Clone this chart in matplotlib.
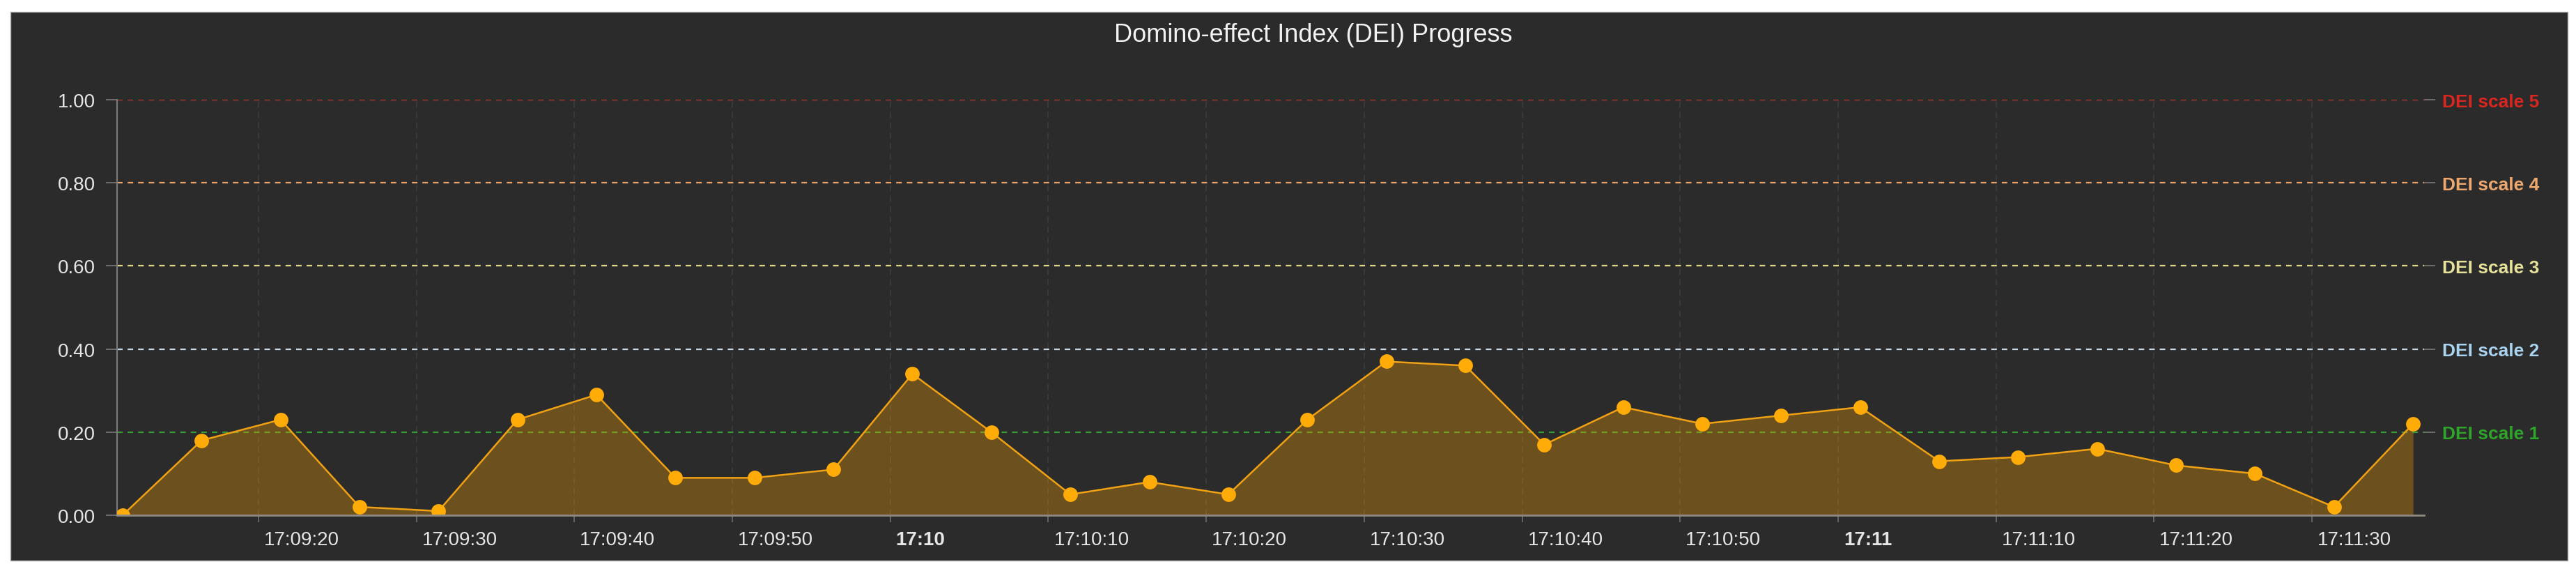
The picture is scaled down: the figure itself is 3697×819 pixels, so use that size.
import numpy as np
import pandas as pd
import matplotlib
matplotlib.use("Agg")
import matplotlib.pyplot as plt
import matplotlib.transforms as mtransforms
from matplotlib.patches import Rectangle

# amostras do indice
times = ["17:09:11.4", "17:09:16.4", "17:09:21.4", "17:09:26.4", "17:09:31.4",
         "17:09:36.4", "17:09:41.4", "17:09:46.4", "17:09:51.4", "17:09:56.4",
         "17:10:01.4", "17:10:06.4", "17:10:11.4", "17:10:16.4", "17:10:21.4",
         "17:10:26.4", "17:10:31.4", "17:10:36.4", "17:10:41.4", "17:10:46.4",
         "17:10:51.4", "17:10:56.4", "17:11:01.4", "17:11:06.4", "17:11:11.4",
         "17:11:16.4", "17:11:21.4", "17:11:26.4", "17:11:31.4", "17:11:36.4"]
dei = [0.00, 0.18, 0.23, 0.02, 0.01, 0.23, 0.29, 0.09, 0.09, 0.11,
       0.34, 0.20, 0.05, 0.08, 0.05, 0.23, 0.37, 0.36, 0.17, 0.26,
       0.22, 0.24, 0.26, 0.13, 0.14, 0.16, 0.12, 0.10, 0.02, 0.22]

tick_times = ["17:09:20", "17:09:30", "17:09:40", "17:09:50", "17:10:00",
              "17:10:10", "17:10:20", "17:10:30", "17:10:40", "17:10:50",
              "17:11:00", "17:11:10", "17:11:20", "17:11:30"]
tick_labels = ["17:09:20", "17:09:30", "17:09:40", "17:09:50", "17:10",
               "17:10:10", "17:10:20", "17:10:30", "17:10:40", "17:10:50",
               "17:11", "17:11:10", "17:11:20", "17:11:30"]
y_ticks = [0.0, 0.2, 0.4, 0.6, 0.8, 1.0]

scale_levels = [0.2, 0.4, 0.6, 0.8, 1.0]
scale_names = ["DEI scale 1", "DEI scale 2", "DEI scale 3", "DEI scale 4", "DEI scale 5"]
scale_line_colors = ["#3a9a34", "#c9d9e6", "#dcd88a", "#e9a36a", "#c8392e"]
scale_text_colors = ["#2ea52a", "#a9d3ee", "#e6e29a", "#eda870", "#d9261f"]

day = "2023-01-01 "
x = [pd.Timestamp(day + t) for t in times]
xt = [pd.Timestamp(day + t) for t in tick_times]

bg = "#2b2b2c"
txt = "#e6e6e8"

fig = plt.figure(figsize=(36.97, 8.2), dpi=100)
fig.patch.set_facecolor("white")
W, H = 3697, 820
fig.patches.append(Rectangle((15 / W, 15 / H), 3670 / W, 787 / H,
                             transform=fig.transFigure, facecolor=bg,
                             edgecolor="#a8a8a8", lw=1, zorder=-10))

ax = fig.add_axes([168 / W, 80 / H, (3479 - 168) / W, (740 - 144) / H])
ax.set_facecolor("none")
ax.set_zorder(2)

# linhas das escalas
for lvl, c in zip(scale_levels, scale_line_colors):
    ax.axhline(lvl, color=c, lw=1.6, dashes=(3.6, 3.2), zorder=2)

ax.fill_between(x, 0, dei, color="#ffa500", alpha=0.31, lw=0, zorder=3)
ax.plot(x, dei, color="#f0a214", lw=1.8, zorder=4)
ax.plot(x, dei, "o", color="#ffab08", ms=15, mew=0, zorder=5)

ax.set_xlim(pd.Timestamp(day + "17:09:11.05"), pd.Timestamp(day + "17:11:37.1"))
ax.set_ylim(0, 1)

ax.set_xticks(xt)
ax.set_xticklabels(tick_labels)
ax.set_yticks(y_ticks)
ax.set_yticklabels(["%.2f" % v for v in y_ticks])

ax.grid(axis="x", color="#3d3d3e", lw=1.2, dashes=(5, 4), zorder=1)
ax.grid(axis="y", visible=False)

for s in ["top", "right"]:
    ax.spines[s].set_visible(False)
ax.spines["left"].set_color("#7a7a7a")
ax.spines["left"].set_linewidth(1.5)
ax.spines["bottom"].set_color("#8f8a82")
ax.spines["bottom"].set_linewidth(2)
ax.spines["bottom"].set_zorder(6)

ax.tick_params(axis="y", colors="#7a7a7a", length=11.5, width=1.2, pad=11,
               labelsize=20, labelcolor=txt)
ax.tick_params(axis="x", colors="#6e6e6e", length=7, width=1.2, pad=9,
               labelsize=20, labelcolor=txt)

offset = mtransforms.ScaledTranslation(8 / 100, 0, fig.dpi_scale_trans)
for lbl in ax.get_xticklabels():
    lbl.set_horizontalalignment("left")
    lbl.set_transform(lbl.get_transform() + offset)
    lbl.set_family("Liberation Sans")
    if len(lbl.get_text()) == 5:
        lbl.set_fontweight("bold")
for lbl in ax.get_yticklabels():
    lbl.set_family("Liberation Sans")

# rotulos das escalas do lado direito
ax2 = ax.twinx()
ax2.set_ylim(0, 1)
ax2.set_yticks(scale_levels)
ax2.set_yticklabels(scale_names)
for s in ax2.spines.values():
    s.set_visible(False)
ax2.tick_params(axis="y", colors="#7a7a7a", length=11.5, width=1.2, pad=7,
                labelsize=19)
for lbl, c in zip(ax2.get_yticklabels(), scale_text_colors):
    lbl.set_color(c)
    lbl.set_fontweight("bold")
    lbl.set_family("Liberation Sans")

fig.text(1885 / W, 1 - 51 / H, "Domino-effect Index (DEI) Progress",
         ha="center", va="center", fontsize=26, color="#f2f2f2",
         family="Liberation Sans")

fig.savefig("out.png", dpi=100, facecolor=fig.get_facecolor())
